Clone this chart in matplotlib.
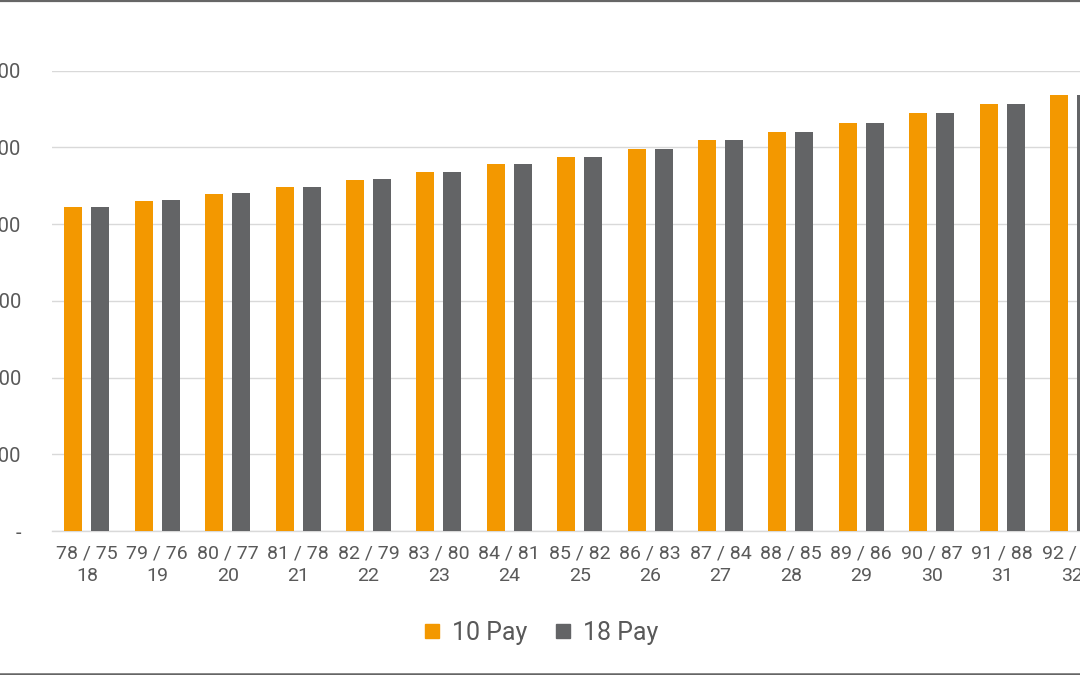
import matplotlib
matplotlib.use("Agg")
import matplotlib.pyplot as plt
from matplotlib.lines import Line2D
import numpy as np

plt.rcParams['font.family'] = ['Roboto', 'DejaVu Sans']

categories = ["78 / 75\n18", "79 / 76\n19", "80 / 77\n20", "81 / 78\n21", "82 / 79\n22",
              "83 / 80\n23", "84 / 81\n24", "85 / 82\n25", "86 / 83\n26", "87 / 84\n27",
              "88 / 85\n28", "89 / 86\n29", "90 / 87\n30", "91 / 88\n31", "92 / 89\n32"]
pay10 = [4220, 4305, 4390, 4485, 4576, 4677, 4781, 4880, 4984, 5098, 5206, 5319, 5446, 5567, 5688]
pay18 = [4220, 4310, 4400, 4485, 4585, 4677, 4781, 4880, 4984, 5098, 5206, 5319, 5446, 5567, 5688]
yticks = [0, 1000, 2000, 3000, 4000, 5000, 6000]
ytick_labels = ["-", "1,000", "2,000", "3,000", "4,000", "5,000", "6,000"]
series_names = ["10 Pay", "18 Pay"]

ORANGE = "#F39800"
GRAY = "#636466"
GRID = "#D9D9D9"
TEXT = "#595959"

W, H = 1080, 675
fig = plt.figure(figsize=(W / 100, H / 100), dpi=100)
left_px, right_px = 51.7, 1080
bottom_px, top_px = 531, 70.7
ax = fig.add_axes([left_px / W, (H - bottom_px) / H, (right_px - left_px) / W, (bottom_px - top_px) / H])

x = np.arange(len(categories))
bw = 0.256
off = 0.193
ax.bar(x - off, pay10, width=bw, color=ORANGE, zorder=3, label=series_names[0])
ax.bar(x + off, pay18, width=bw, color=GRAY, zorder=3, label=series_names[1])

spacing_px = 70.4
ax.set_xlim(-0.5, -0.5 + (right_px - left_px) / spacing_px)
ax.set_ylim(0, 6000)
ax.set_yticks(yticks)
ax.set_yticklabels(ytick_labels)
ax.set_xticks(x)
ax.set_xticklabels(categories, linespacing=1.29)

ax.grid(axis='y', color=GRID, linewidth=1.0, zorder=0)
ax.set_axisbelow(True)
for s in ['top', 'right', 'left']:
    ax.spines[s].set_visible(False)
ax.spines['bottom'].set_color(GRID)
ax.spines['bottom'].set_linewidth(1.0)

ax.tick_params(axis='x', length=0, pad=10, labelsize=14, labelcolor=TEXT)
ax.tick_params(axis='y', length=0, pad=22, labelsize=14.5, labelcolor=TEXT)

handles = [Line2D([], [], marker='s', linestyle='none', markersize=10.3, color=ORANGE),
           Line2D([], [], marker='s', linestyle='none', markersize=10.5, color=GRAY)]
leg = fig.legend(handles, series_names, loc='center', bbox_to_anchor=(541.5 / W, (H - 633) / H),
                 ncol=2, frameon=False, fontsize=18, handlelength=0.6, handletextpad=0.5,
                 columnspacing=1.15, borderpad=0)
for t in leg.get_texts():
    t.set_color(TEXT)

border = "#666666"
fig.add_artist(Line2D([0, 1], [1 - 1 / H, 1 - 1 / H], transform=fig.transFigure, color=border, linewidth=1.6))
fig.add_artist(Line2D([0, 1], [1.5 / H, 1.5 / H], transform=fig.transFigure, color=border, linewidth=1.8))

fig.savefig("out.png", dpi=100, facecolor="white")
